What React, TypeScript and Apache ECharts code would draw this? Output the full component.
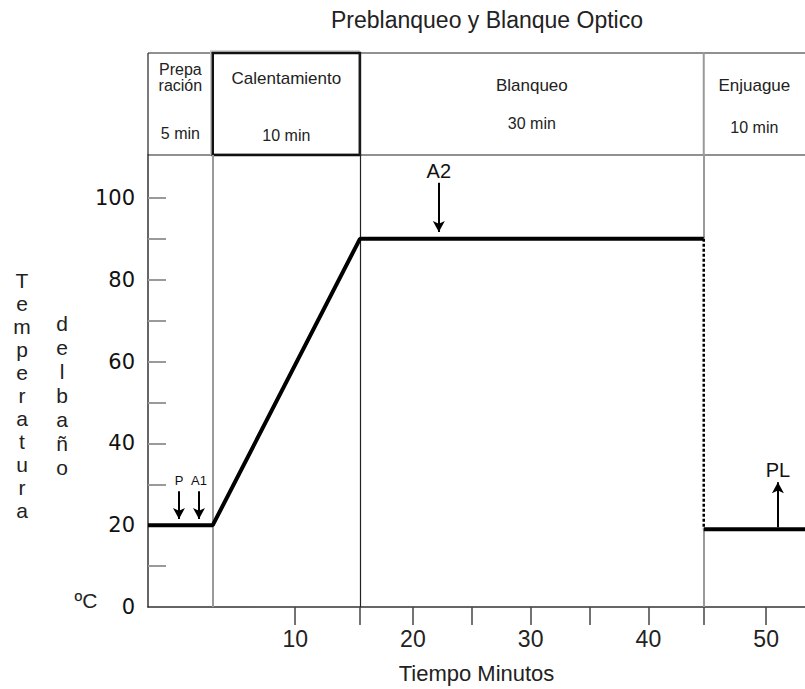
import React, { useEffect, useRef } from "react";
import * as echarts from "echarts";

// ---- data ----
const phaseNames = ["Prepa\nración", "Calentamiento", "Blanqueo", "Enjuague"];
const phaseDurations = ["5 min", "10 min", "30 min", "10 min"];
const phaseBounds = [-2.5, 3.0, 15.5, 44.7, 53.3];

const tempTimes = [-2.5, 3.0, 15.5, 44.7];
const tempValues = [20, 20, 90, 90];
const drainTimes = [44.7, 44.7];
const drainValues = [90, 19];
const rinseTimes = [44.7, 53.3];
const rinseValues = [19, 19];

const arrowLabels = ["P", "A1", "A2", "PL"];
const arrowTimes = [0.13, 1.83, 22.2, 51.0];
const arrowFrom = [28.3, 28.3, 103.7, 19.5];
const arrowTo = [21.5, 21.5, 91.7, 30.5];

const xTickValues = [10, 15.5, 20, 25, 30, 35, 40, 44.7, 50];
const xLabelValues = [10, 20, 30, 40, 50];
const yTickValues = [10, 20, 30, 40, 50, 60, 70, 80, 90, 100];
const yLabelValues = [0, 20, 40, 60, 80, 100];

const X_MIN = -2.5;
const X_MAX = 53.3;
const Y_MAX = 110.5;

// ---- styles (layout only) ----
const headerLayout = [
  { nameY: 24.5, durY: 80, divider: "#222", boxed: false, nameSize: 16 },
  { nameY: 25, durY: 82, divider: "#222", boxed: true, nameSize: 17 },
  { nameY: 32, durY: 70, divider: "#222", boxed: false, nameSize: 17 },
  { nameY: 32, durY: 74, divider: "#9a9a9a", boxed: false, nameSize: 17 },
];
const arrowStyle = [
  { position: "start", fontSize: 13, distance: 4 },
  { position: "start", fontSize: 13, distance: 4 },
  { position: "start", fontSize: 20, distance: 2 },
  { position: "end", fontSize: 20, distance: 2 },
];
const FONT = "'Liberation Sans', Arial, sans-serif";

const zip = (a: number[], b: number[]) => a.map((v, i) => [v, b[i]]);

export default function App() {
  const ref = useRef<HTMLDivElement>(null);
  useEffect(() => {
    if (!ref.current) return;
    const chart = echarts.init(ref.current, null, { renderer: "svg" });

    const headerData = phaseNames.map((_, i) => [phaseBounds[i], phaseBounds[i + 1]]);

    const option: any = {
      animation: false,
      backgroundColor: "#fff",
      grid: [
        { left: 148, right: 0, top: 155, height: 453 },
        { left: 148, right: 0, top: 53, height: 102 },
      ],
      xAxis: [
        {
          type: "value",
          gridIndex: 0,
          min: X_MIN,
          max: X_MAX,
          splitLine: { show: false },
          axisLine: { show: true, onZero: false, lineStyle: { color: "#333", width: 1.5 } },
          axisTick: {
            show: true,
            customValues: xTickValues,
            length: 18,
            lineStyle: { color: "#444", width: 1.5 },
          },
          axisLabel: {
            customValues: xLabelValues,
            margin: 20,
            fontSize: 23,
            fontFamily: FONT,
            color: "#222",
          },
          name: "Tiempo Minutos",
          nameLocation: "middle",
          nameGap: 66,
          nameTextStyle: { fontSize: 22, fontFamily: FONT, color: "#222", verticalAlign: "middle" },
        },
        {
          type: "value",
          gridIndex: 1,
          min: X_MIN,
          max: X_MAX,
          show: false,
        },
      ],
      yAxis: [
        {
          type: "value",
          gridIndex: 0,
          min: 0,
          max: Y_MAX,
          splitLine: { show: false },
          axisLine: { show: true, onZero: false, lineStyle: { color: "#333", width: 1.5 } },
          axisTick: {
            show: true,
            inside: true,
            length: 18,
            customValues: yTickValues,
            lineStyle: { color: "#9a9a9a", width: 2 },
          },
          axisLabel: {
            customValues: yLabelValues,
            margin: 13,
            fontSize: 21,
            fontFamily: "'DejaVu Sans', sans-serif",
            color: "#111",
          },
        },
        { type: "value", gridIndex: 1, min: 0, max: 1, show: false },
      ],
      graphic: [
        {
          type: "text",
          x: 487,
          y: 20,
          style: {
            text: "Preblanqueo y Blanque Optico",
            fontSize: 23,
            fontFamily: FONT,
            fill: "#222",
            align: "center",
            verticalAlign: "middle",
          },
        },
        {
          type: "text",
          x: 22,
          y: 268.5,
          style: {
            text: "Temperatura".split("").join("\n"),
            fontSize: 21,
            lineHeight: 23,
            fontFamily: FONT,
            fill: "#222",
            align: "center",
            verticalAlign: "top",
          },
        },
        {
          type: "text",
          x: 62,
          y: 311,
          style: {
            text: "delbaño".split("").join("\n"),
            fontSize: 21,
            lineHeight: 24,
            fontFamily: FONT,
            fill: "#222",
            align: "center",
            verticalAlign: "top",
          },
        },
        {
          type: "text",
          x: 86,
          y: 600,
          style: {
            text: "ºC",
            fontSize: 21,
            fontFamily: FONT,
            fill: "#222",
            align: "center",
            verticalAlign: "middle",
          },
        },
      ],
      series: [
        {
          type: "custom",
          xAxisIndex: 1,
          yAxisIndex: 1,
          clip: false,
          silent: true,
          data: headerData,
          renderItem: (params: any, api: any) => {
            const i = params.dataIndex;
            const L = headerLayout[i];
            const p0 = api.coord([api.value(0), 1]);
            const p1 = api.coord([api.value(1), 0]);
            const x0 = p0[0], y0 = p0[1], x1 = p1[0], y1 = p1[1];
            const cx = (x0 + x1) / 2;
            const children: any[] = [
              { type: "line", shape: { x1: x0, y1: y0, x2: x1, y2: y0 }, style: { stroke: "#222", lineWidth: 1.2 } },
              { type: "line", shape: { x1: x0, y1: y1, x2: x1, y2: y1 }, style: { stroke: "#222", lineWidth: 1.2 } },
              { type: "line", shape: { x1: x0, y1: y0, x2: x0, y2: y1 }, style: { stroke: L.divider, lineWidth: i === 3 ? 2 : 1.2 } },
            ];
            if (L.boxed) {
              children.push({
                type: "rect",
                shape: { x: x0 - 2, y: y0 - 2, width: x1 - x0 + 1, height: y1 - y0 + 1 },
                style: { fill: "none", stroke: "#c8c8c8", lineWidth: 1.5 },
              });
              children.push({
                type: "rect",
                shape: { x: x0, y: y0, width: x1 - x0, height: y1 - y0 },
                style: { fill: "none", stroke: "#111", lineWidth: 2.5 },
              });
            }
            children.push({
              type: "text",
              style: {
                x: cx,
                y: y0 + L.nameY,
                text: phaseNames[i],
                fontSize: L.nameSize,
                lineHeight: 16,
                fontFamily: FONT,
                fill: "#222",
                align: "center",
                verticalAlign: "middle",
              },
            });
            children.push({
              type: "text",
              style: {
                x: cx,
                y: y0 + L.durY,
                text: phaseDurations[i],
                fontSize: 16,
                fontFamily: FONT,
                fill: "#222",
                align: "center",
                verticalAlign: "middle",
              },
            });
            return { type: "group", children };
          },
        },
        {
          type: "line",
          name: "temperatura",
          data: zip(tempTimes, tempValues),
          symbol: "none",
          lineStyle: { color: "#000", width: 4 },
          z: 5,
          markLine: {
            silent: true,
            symbol: ["none", "arrow"],
            symbolSize: [9, 11],
            lineStyle: { color: "#000", width: 2, type: "solid" },
            label: { show: false },
            data: arrowLabels.map((lab, i) => [
              {
                coord: [arrowTimes[i], arrowFrom[i]],
                label: {
                  show: true,
                  formatter: lab,
                  position: arrowStyle[i].position,
                  distance: arrowStyle[i].distance,
                  fontSize: arrowStyle[i].fontSize,
                  fontFamily: FONT,
                  color: "#111",
                },
              },
              { coord: [arrowTimes[i], arrowTo[i]] },
            ]),
          },
        },
        {
          type: "line",
          name: "vaciado",
          data: zip(drainTimes, drainValues),
          symbol: "none",
          lineStyle: { color: "#000", width: 2.5, type: [3, 2] },
          z: 4,
        },
        {
          type: "line",
          name: "enjuague",
          data: zip(rinseTimes, rinseValues),
          symbol: "none",
          lineStyle: { color: "#000", width: 4 },
          z: 5,
          markLine: {
            silent: true,
            symbol: "none",
            label: { show: false },
            data: [
              [
                { coord: [phaseBounds[1], 0], lineStyle: { color: "#9a9a9a", width: 2, type: "solid" } },
                { coord: [phaseBounds[1], Y_MAX] },
              ],
              [
                { coord: [phaseBounds[2], 0], lineStyle: { color: "#222", width: 1.2, type: "solid" } },
                { coord: [phaseBounds[2], Y_MAX] },
              ],
              [
                { coord: [phaseBounds[3], 0], lineStyle: { color: "#9a9a9a", width: 2, type: "solid" } },
                { coord: [phaseBounds[3], rinseValues[0]] },
              ],
              [
                { coord: [phaseBounds[3], tempValues[3]], lineStyle: { color: "#9a9a9a", width: 2, type: "solid" } },
                { coord: [phaseBounds[3], Y_MAX] },
              ],
            ],
          },
        },
      ],
    };

    chart.setOption(option);
    return () => chart.dispose();
  }, []);

  return (
    <div
      ref={ref}
      style={{ position: "fixed", left: 0, top: 0, width: 805, height: 689, background: "#fff" }}
    />
  );
}
